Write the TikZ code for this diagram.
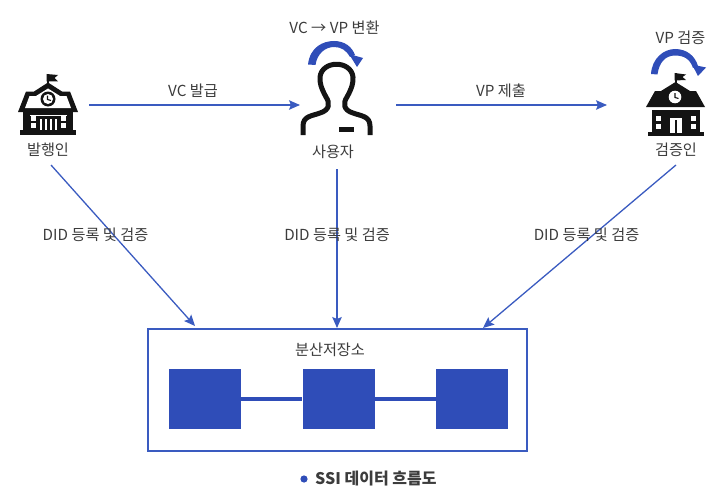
\documentclass[tikz,border=0pt]{standalone}
\usepackage{fontspec}
\setmainfont{Noto Sans CJK KR}
\usetikzlibrary{arrows.meta}
\definecolor{flow}{HTML}{3A5BC0}
\definecolor{block}{HTML}{2F4DB8}
\definecolor{ink}{HTML}{3C3C3C}
\definecolor{icon}{HTML}{141414}
\tikzset{
  lbl/.style={text=ink,font=\fontsize{15.2}{17}\selectfont,inner sep=0pt},
  flowline/.style={draw=flow,line width=1.3pt,-{Stealth[length=11pt,width=9.5pt,inset=2pt]}},
  storebox/.style={draw=flow,line width=1.5pt,fill=white,minimum width=379pt,minimum height=122pt,inner sep=0pt},
  chunk/.style={fill=block,minimum width=72pt,minimum height=60pt,inner sep=0pt},
  linkline/.style={draw=block,line width=4pt},
  inkfill/.style={fill=icon,draw=none},
  blank/.style={fill=white,draw=none},
  swirl/.style={fill=block,draw=none}
}
\begin{document}
\begin{tikzpicture}[x=1pt,y=-1pt]
\useasboundingbox (0,0) rectangle (723,495);
% issuer icon
\fill[inkfill] (46.5,74) rectangle (48.5,86);
\fill[inkfill] (46.5,74) -- (58,75) -- (54.5,78) -- (58,81.5) -- (46.5,81.5) -- cycle;
\fill[inkfill] (48,82.5) -- (62,91.5) -- (70,91.5) -- (78,112) -- (18,112) -- (26,91.5) -- (34,91.5) -- cycle;
\fill[blank] (48,88.5) -- (60,96) -- (66.5,96) -- (71,108) -- (25,108) -- (29.5,96) -- (36,96) -- cycle;
\fill[inkfill] (48,99) circle (7.5);
\fill[blank] (48,99) circle (5);
\draw[icon,line width=1.1pt] (47.5,95.5) -- (47.5,99.5) -- (51,100.5);
\fill[inkfill] (23,112) rectangle (73,131);
\fill[inkfill] (20,130) rectangle (76,134.5);
\fill[blank] (30,114.5) rectangle (67,116);
\foreach \wx in {30.5,60.5}{
  \fill[blank] (\wx,116) rectangle ++(5.5,4.5);
  \fill[blank] (\wx,122.5) rectangle ++(5.5,5);
}
\fill[blank] (39.5,119) rectangle (41.5,130);
\fill[blank] (44.5,119) rectangle (46.5,130);
\fill[blank] (49.5,119) rectangle (51.5,130);
\fill[blank] (54.5,119) rectangle (56.5,130);
% person icon
\draw[icon,line width=5pt,line cap=butt,line join=round]
  (303,135) -- (303,126) .. controls (303,116) and (312,116) .. (320,113)
  .. controls (330,110) and (330,103) .. (326,97)
  .. controls (321,88) and (319.5,82) .. (320,77)
  .. controls (322,60) and (351,60) .. (353,77)
  .. controls (353.5,82) and (352,88) .. (347,97)
  .. controls (343,103) and (343,110) .. (353,113)
  .. controls (361,116) and (370,116) .. (370,126) -- (370,135);
\fill[inkfill] (339,127) rectangle (353.5,132);
% verifier icon
\fill[inkfill] (674.5,73) rectangle (676.5,84);
\fill[inkfill] (674.5,73) -- (686,74.5) -- (682.5,77) -- (686,80) -- (674.5,80.5) -- cycle;
\fill[inkfill] (675.5,82) -- (690,91) -- (696,91) -- (705,107) -- (646,107) -- (655,91) -- (661,91) -- cycle;
\fill[blank] (675,97) circle (6.3);
\draw[icon,line width=1.1pt] (675,93) -- (675,97.5) -- (678.5,98.5);
\fill[inkfill] (652,110) rectangle (700,133);
\fill[inkfill] (648,132) rectangle (704,136);
\foreach \wx in {656,691}{
  \fill[blank] (\wx,116) rectangle ++(5,5);
  \fill[blank] (\wx,124) rectangle ++(5,5);
}
\fill[blank] (670,118) rectangle (682,133);
\fill[inkfill] (675,120) rectangle (677,133);
% curved blue swirls
\fill[swirl] (308,64.5) .. controls (310,47) and (323,41) .. (334,41)
  .. controls (345,41) and (352,47) .. (355,55)
  -- (350,57) .. controls (346,50) and (341,47) .. (334,47)
  .. controls (325,47) and (317,54) .. (315.5,65) -- cycle;
\fill[swirl] (349,54) -- (363,58) -- (357,67) -- cycle;
\fill[swirl] (651,74) .. controls (652,58) and (664,49) .. (675,49)
  .. controls (687,49) and (695,56) .. (698,66)
  -- (693,68) .. controls (690,59) and (684,55.5) .. (675,55.5)
  .. controls (665,55.5) and (659,63) .. (657.5,74.5) -- cycle;
\fill[swirl] (692,64.5) -- (706,67.5) -- (698,76) -- cycle;
% labels
\node[lbl] (lissuer) at (48,150) {발행인};
\node[lbl] (luser) at (333,152) {사용자};
\node[lbl] (lverifier) at (676,150) {검증인};
\node[lbl] (lconvert) at (334.5,28) {VC → VP 변환};
\node[lbl] (lcheck) at (680.5,38) {VP 검증};
\node[lbl] (lissue) at (193,91) {VC 발급};
\node[lbl] (lsubmit) at (501,91) {VP 제출};
% connector ends
\coordinate (a1) at (89,105);
\coordinate (a2) at (300,105);
\coordinate (b1) at (396,105);
\coordinate (b2) at (607,105);
\coordinate (c1) at (51,165);
\coordinate (c2) at (195,326);
\coordinate (d1) at (337,169);
\coordinate (d2) at (337,328);
\coordinate (e1) at (676,165);
\coordinate (e2) at (483,328);
% storage
\node[storebox] (store) at (337.5,390) {};
\node[lbl] (lstore) at (330,350) {분산저장소};
\node[chunk] (s1) at (205,399) {};
\node[chunk] (s2) at (338.5,399) {};
\node[chunk] (s3) at (472,399) {};
\draw[linkline] (s1) -- (s2);
\draw[linkline] (s2) -- (s3);
% flows
\draw[flowline] (a1) -- (a2);
\draw[flowline] (b1) -- (b2);
\draw[flowline] (c1) -- (c2);
\draw[flowline] (d1) -- (d2);
\draw[flowline] (e1) -- (e2);
\node[lbl] (ld1) at (95.5,235) {DID 등록 및 검증};
\node[lbl] (ld2) at (337,235) {DID 등록 및 검증};
\node[lbl] (ld3) at (586.5,235) {DID 등록 및 검증};
% caption
\fill[block] (304,479) circle (3.6);
\node[text=ink,font=\fontsize{16}{18}\selectfont\bfseries,inner sep=0pt,anchor=west] (cap) at (315,479) {SSI 데이터 흐름도};
\end{tikzpicture}
\end{document}
